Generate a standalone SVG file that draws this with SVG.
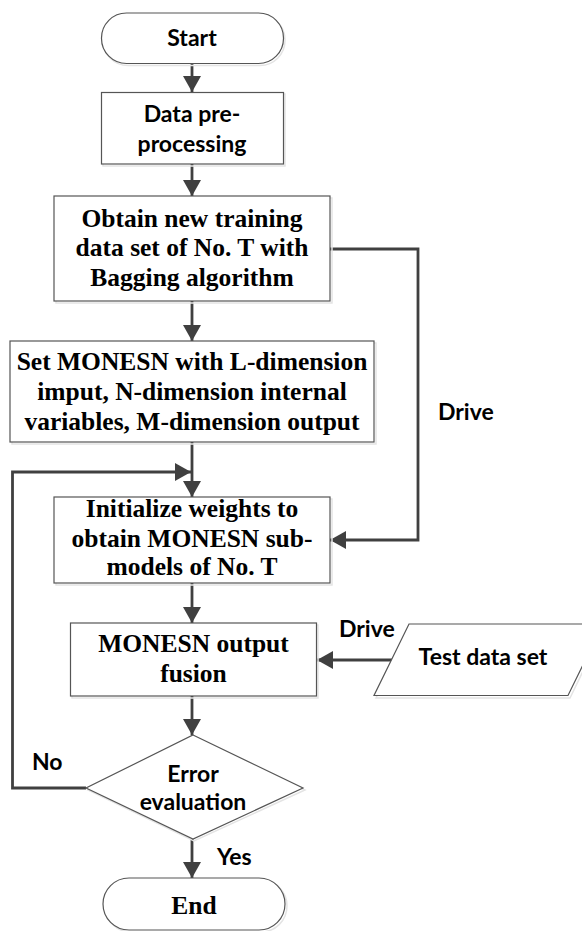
<svg xmlns="http://www.w3.org/2000/svg" width="582" height="931" viewBox="0 0 582 931">
  <defs>
    <marker id="arrow" viewBox="0 0 16 18" refX="16" refY="9" markerWidth="16" markerHeight="18" markerUnits="userSpaceOnUse" orient="auto">
      <path d="M0,0 L16,9 L0,18 Z" fill="#404040"/>
    </marker>
  </defs>
  <style>
    .shape { fill: #ffffff; stroke: #555555; stroke-width: 1.2; }
    .shadow { fill: none; stroke: #e4e4e4; stroke-width: 1.5; }
    .serif { font-family: "Liberation Serif", "Times New Roman", serif; font-weight: bold; font-size: 25.5px; fill: #000; text-anchor: middle; }
    .sans { font-family: Lato, "Open Sans", sans-serif; font-weight: bold; font-size: 23px; fill: #000; text-anchor: middle; }
    .label { font-family: Lato, "Open Sans", sans-serif; font-weight: bold; font-size: 23px; fill: #000; }
    .conn { fill: none; stroke: #404040; stroke-width: 2.8; }
  </style>
  <rect width="582" height="931" fill="#ffffff"/>

  <!-- connectors -->
  <g id="connectors">
    <line class="conn" x1="192" y1="63" x2="192" y2="92" marker-end="url(#arrow)"/>
    <line class="conn" x1="192" y1="164" x2="192" y2="196" marker-end="url(#arrow)"/>
    <line class="conn" x1="192" y1="301" x2="192" y2="341" marker-end="url(#arrow)"/>
    <line class="conn" x1="192" y1="442" x2="192" y2="497" marker-end="url(#arrow)"/>
    <polyline class="conn" points="330,249 418,249 418,540 330,540" marker-end="url(#arrow)"/>
    <polyline class="conn" points="86,788 12.5,788 12.5,472 191,472" marker-end="url(#arrow)"/>
    <line class="conn" x1="192" y1="583" x2="192" y2="623" marker-end="url(#arrow)"/>
    <line class="conn" x1="392" y1="660" x2="317" y2="660" marker-end="url(#arrow)"/>
    <line class="conn" x1="192" y1="696" x2="192" y2="735" marker-end="url(#arrow)"/>
    <line class="conn" x1="192" y1="839" x2="192" y2="878" marker-end="url(#arrow)"/>
    <text class="label" x="438" y="420">Drive</text>
    <text class="label" x="339" y="637">Drive</text>
    <text class="label" x="32" y="770">No</text>
    <text class="label" x="217" y="865">Yes</text>
  </g>

  <g id="start">
    <rect class="shadow" x="103" y="15" width="182" height="50.5" rx="25"/>
    <rect class="shape" x="101.5" y="13" width="182" height="50.5" rx="25"/>
    <text class="sans" x="192" y="46">Start</text>
  </g>

  <g id="preprocess">
    <rect class="shadow" x="103" y="94" width="182" height="72"/>
    <rect class="shape" x="101.5" y="92.5" width="182" height="71.5"/>
    <text class="sans" x="192" y="122">Data pre-</text>
    <text class="sans" x="192" y="152">processing</text>
  </g>

  <g id="bagging">
    <rect class="shadow" x="56" y="198" width="276" height="105"/>
    <rect class="shape" x="54" y="196" width="276" height="105"/>
    <text class="serif" x="192" y="227">Obtain new training</text>
    <text class="serif" x="192" y="256">data set of No. T with</text>
    <text class="serif" x="192" y="285.5">Bagging algorithm</text>
  </g>

  <g id="setup">
    <rect class="shadow" x="12" y="343" width="364" height="101"/>
    <rect class="shape" x="10" y="341" width="364" height="101"/>
    <text class="serif" x="192" y="370">Set MONESN with L-dimension</text>
    <text class="serif" x="192" y="400">imput, N-dimension internal</text>
    <text class="serif" x="192" y="430">variables, M-dimension output</text>
  </g>

  <g id="init">
    <rect class="shadow" x="56" y="499" width="276" height="86"/>
    <rect class="shape" x="54" y="497" width="276" height="86"/>
    <text class="serif" x="192" y="517">Initialize weights to</text>
    <text class="serif" x="192" y="546.5">obtain MONESN sub-</text>
    <text class="serif" x="192" y="575">models of No. T</text>
  </g>

  <g id="fusion">
    <rect class="shadow" x="72" y="625" width="246" height="73"/>
    <rect class="shape" x="70.5" y="623" width="246" height="73"/>
    <text class="serif" x="193.5" y="651.5">MONESN output</text>
    <text class="serif" x="193.5" y="681.5">fusion</text>
  </g>

  <g id="testdata">
    <polygon class="shadow" points="411,626 605,626 570,698 376,698"/>
    <polygon class="shape" points="409,624 603,624 568,695.5 374,695.5"/>
    <text class="sans" x="483" y="665">Test data set</text>
  </g>

  <g id="evaluate">
    <polygon class="shadow" points="194,737 305,790 194,841 88,790"/>
    <polygon class="shape" points="193,735 303,788 193,839 86,788"/>
    <text class="sans" x="193" y="782">Error</text>
    <text class="sans" x="193" y="810">evaluation</text>
  </g>

  <g id="end">
    <rect class="shadow" x="105" y="880" width="182" height="52" rx="26"/>
    <rect class="shape" x="103" y="878" width="182" height="52" rx="26"/>
    <text class="serif" x="194" y="914">End</text>
  </g>
</svg>
